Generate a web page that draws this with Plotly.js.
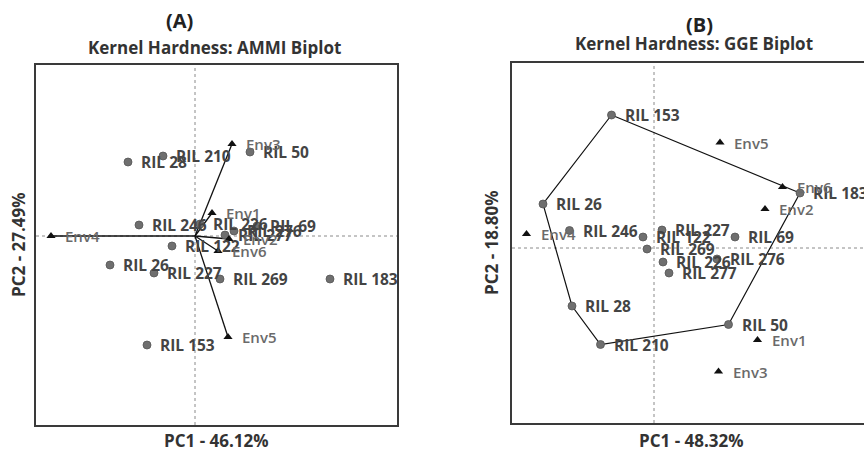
<!DOCTYPE html>
<html>
<head>
<meta charset="utf-8">
<script src="https://cdn.plot.ly/plotly-3.0.1.min.js"></script>
<style>
html,body{margin:0;padding:0;background:#fff;}
#chart{width:864px;height:453px;}
</style>
</head>
<body>
<div id="chart"></div>
<script>
// ---- Data: AMMI biplot (panel A) ----
const ammiGenotypes = ['RIL 28','RIL 210','RIL 50','RIL 246','RIL 226','RIL 69','RIL 276','RIL 277','RIL 122','RIL 26','RIL 227','RIL 269','RIL 183','RIL 153'];
const ammiGenPC1 = [-1.34,-0.64,1.10,-1.12,0.10,1.24,0.78,0.60,-0.46,-1.70,-0.82,0.50,2.70,-0.96];
const ammiGenPC2 = [1.48,1.60,1.68,0.22,0.24,0.20,0.10,0.02,-0.20,-0.58,-0.74,-0.86,-0.86,-2.18];
const environments = ['Env1','Env2','Env3','Env4','Env5','Env6'];
const ammiEnvPC1 = [0.34,0.68,0.74,-2.88,0.66,0.46];
const ammiEnvPC2 = [0.46,-0.06,1.84,0.00,-2.02,-0.30];

// ---- Data: GGE biplot (panel B) ----
const ggeGenotypes = ['RIL 153','RIL 26','RIL 246','RIL 227','RIL 122','RIL 269','RIL 226','RIL 277','RIL 276','RIL 69','RIL 183','RIL 28','RIL 210','RIL 50'];
const ggeGenPC1 = [-0.85,-2.22,-1.69,0.16,-0.22,-0.14,0.18,0.30,1.26,1.62,2.92,-1.64,-1.07,1.49];
const ggeGenPC2 = [2.66,0.88,0.35,0.36,0.22,-0.02,-0.28,-0.50,-0.22,0.22,1.10,-1.16,-1.93,-1.53];
const ggeEnvPC1 = [2.07,2.22,1.29,-2.55,1.32,2.57];
const ggeEnvPC2 = [-1.84,0.78,-2.47,0.28,2.11,1.22];
const ggeHull = ['RIL 153','RIL 183','RIL 50','RIL 210','RIL 28','RIL 26','RIL 153'];

const titleA = '(A)';
const subA = 'Kernel Hardness: AMMI Biplot';
const titleB = '(B)';
const subB = 'Kernel Hardness: GGE Biplot';
const xTitleA = 'PC1 - 46.12%', yTitleA = 'PC2 - 27.49%';
const xTitleB = 'PC1 - 48.32%', yTitleB = 'PC2 - 18.80%';

// ---- Build traces ----
const FONT = 'Open Sans, Liberation Sans, sans-serif';
const dotMarker = {symbol:'circle', size:8, color:'#6f6f6f', line:{color:'#555', width:0.8}};
const triMarker = {symbol:'triangle-up', size:8, color:'#111'};

const rayX = [], rayY = [];
ammiEnvPC1.forEach((v,i)=>{ rayX.push(0, v, null); rayY.push(0, ammiEnvPC2[i], null); });

const hullX = ggeHull.map(g => ggeGenPC1[ggeGenotypes.indexOf(g)]);
const hullY = ggeHull.map(g => ggeGenPC2[ggeGenotypes.indexOf(g)]);

const traces = [
  {x: rayX, y: rayY, mode:'lines', line:{color:'#111', width:1.3}, xaxis:'x', yaxis:'y', hoverinfo:'skip'},
  {x: ammiGenPC1, y: ammiGenPC2, mode:'markers', marker:dotMarker, xaxis:'x', yaxis:'y', text: ammiGenotypes},
  {x: ammiEnvPC1, y: ammiEnvPC2, mode:'markers', marker:triMarker, xaxis:'x', yaxis:'y', text: environments},
  {x: hullX, y: hullY, mode:'lines', line:{color:'#111', width:1.2}, xaxis:'x2', yaxis:'y2', hoverinfo:'skip'},
  {x: ggeGenPC1, y: ggeGenPC2, mode:'markers', marker:dotMarker, xaxis:'x2', yaxis:'y2', text: ggeGenotypes},
  {x: ggeEnvPC1, y: ggeEnvPC2, mode:'markers', marker:triMarker, xaxis:'x2', yaxis:'y2', text: environments}
];

// ---- Labels as annotations ----
const annotations = [];
function addLabels(names, xs, ys, xr, yr, isEnv){
  names.forEach((n,i)=>{
    annotations.push({x: xs[i], y: ys[i], xref: xr, yref: yr, text: n, showarrow:false,
      xanchor:'left', yanchor:'middle', xshift: isEnv ? 12 : 11,
      font:{family:FONT, size: isEnv ? 15 : 15.5, color: isEnv ? '#6a6a6a' : '#444', weight: isEnv ? 600 : 700}});
  });
}
addLabels(ammiGenotypes, ammiGenPC1, ammiGenPC2, 'x', 'y', false);
addLabels(environments, ammiEnvPC1, ammiEnvPC2, 'x', 'y', true);
addLabels(ggeGenotypes, ggeGenPC1, ggeGenPC2, 'x2', 'y2', false);
addLabels(environments, ggeEnvPC1, ggeEnvPC2, 'x2', 'y2', true);

// titles
const tFont = {family:FONT, size:17, color:'#333', weight:700};
const hFont = {family:FONT, size:20, color:'#222', weight:700};
annotations.push({xref:'paper', yref:'paper', x:179/864, y:1-20/453, text:titleA, showarrow:false, xanchor:'center', yanchor:'middle', font:hFont});
annotations.push({xref:'paper', yref:'paper', x:214/864, y:1-48/453, text:subA, showarrow:false, xanchor:'center', yanchor:'middle', font:tFont});
annotations.push({xref:'paper', yref:'paper', x:699/864, y:1-25/453, text:titleB, showarrow:false, xanchor:'center', yanchor:'middle', font:hFont});
annotations.push({xref:'paper', yref:'paper', x:694/864, y:1-43/453, text:subB, showarrow:false, xanchor:'center', yanchor:'middle', font:tFont});
// axis titles
const aFont = {family:FONT, size:17, color:'#333', weight:700};
annotations.push({xref:'paper', yref:'paper', x:216/864, y:1-440/453, text:xTitleA, showarrow:false, xanchor:'center', yanchor:'middle', font:aFont});
annotations.push({xref:'paper', yref:'paper', x:18/864, y:1-245/453, text:yTitleA, showarrow:false, textangle:-90, xanchor:'center', yanchor:'middle', font:aFont});
annotations.push({xref:'paper', yref:'paper', x:691/864, y:1-440/453, text:xTitleB, showarrow:false, xanchor:'center', yanchor:'middle', font:aFont});
annotations.push({xref:'paper', yref:'paper', x:492/864, y:1-243/453, text:yTitleB, showarrow:false, textangle:-90, xanchor:'center', yanchor:'middle', font:aFont});

const dotted = {color:'#8a8a8a', width:1, dash:'dot'};
const shapes = [
  {type:'line', xref:'x', yref:'y domain', x0:0, x1:0, y0:0, y1:1, line:dotted, layer:'below'},
  {type:'line', xref:'x domain', yref:'y', x0:0, x1:1, y0:0, y1:0, line:dotted, layer:'below'},
  {type:'line', xref:'x2', yref:'y2 domain', x0:0, x1:0, y0:0, y1:1, line:dotted, layer:'below'},
  {type:'line', xref:'x2 domain', yref:'y2', x0:0, x1:1, y0:0, y1:0, line:dotted, layer:'below'}
];

const axBase = {showgrid:false, zeroline:false, showticklabels:false, ticks:'', showline:true, linecolor:'#3a3a3a', linewidth:1.6};

const layout = {
  width:864, height:453,
  margin:{l:0, r:0, t:0, b:0},
  paper_bgcolor:'#fff', plot_bgcolor:'#fff',
  showlegend:false,
  xaxis: Object.assign({}, axBase, {domain:[36/864, 397/864], range:[-3.18, 4.04], mirror:true, anchor:'y'}),
  yaxis: Object.assign({}, axBase, {domain:[(453-425)/453, (453-65)/453], range:[-3.78, 3.42], mirror:true, anchor:'x'}),
  xaxis2: Object.assign({}, axBase, {domain:[512/864, 1], range:[-2.84, 4.2], mirror:true, anchor:'y2'}),
  yaxis2: Object.assign({}, axBase, {domain:[(453-423)/453, (453-63)/453], range:[-3.5, 3.7], mirror:false, anchor:'x2'}),
  annotations: annotations,
  shapes: shapes,
  hovermode:false
};

Plotly.newPlot('chart', traces, layout, {displayModeBar:false, staticPlot:true});
</script>
</body>
</html>
